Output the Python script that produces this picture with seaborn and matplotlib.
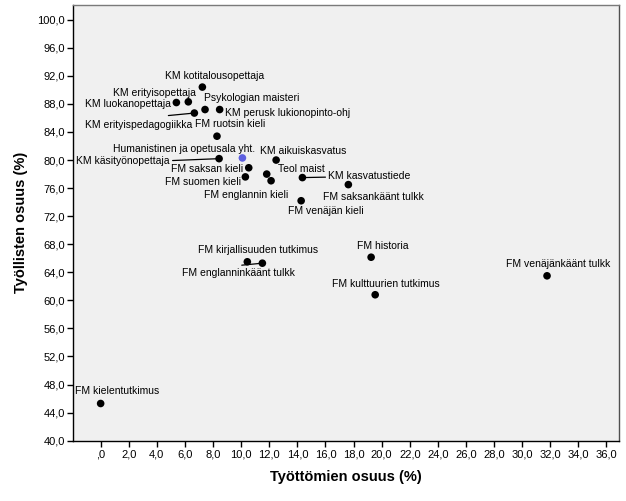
import matplotlib
matplotlib.use("Agg")
import matplotlib.pyplot as plt
from matplotlib.ticker import FixedLocator, FuncFormatter
import pandas as pd
import seaborn as sns

# tutkinnot: työttömien osuus (x) ja työllisten osuus (y)
names = [
    "KM kotitalousopettaja", "KM erityisopettaja", "KM luokanopettaja",
    "KM erityispedagogiikka", "Psykologian maisteri", "KM perusk lukionopinto-ohj",
    "FM ruotsin kieli", "Humanistinen ja opetusala yht.", "KM aikuiskasvatus",
    "KM käsityönopettaja", "FM saksan kieli", "FM suomen kieli", "Teol maist",
    "KM kasvatustiede", "FM englannin kieli", "FM venäjän kieli",
    "FM saksankäänt tulkk", "FM kirjallisuuden tutkimus", "FM englanninkäänt tulkk",
    "FM historia", "FM kulttuurien tutkimus", "FM venäjänkäänt tulkk",
    "FM kielentutkimus",
]
unemployed = [7.24, 6.24, 5.39, 6.67, 7.43, 8.47, 8.28, 10.09, 12.49, 8.43, 10.54,
              10.30, 11.82, 14.36, 12.13, 14.27, 17.63, 10.44, 11.51, 19.25, 19.54,
              31.77, 0.0]
employed = [90.4, 88.3, 88.2, 86.7, 87.2, 87.2, 83.4, 80.3, 80.0, 80.2, 78.9,
            77.6, 78.0, 77.5, 77.05, 74.2, 76.5, 65.5, 65.3, 66.15, 60.8, 63.5, 45.3]
group = ["tutkinto"] * 7 + ["yhteensä"] + ["tutkinto"] * 15

x_ticks = list(range(0, 37, 2))
y_ticks = list(range(40, 101, 4))

# label placement (pixel offsets from the dot) and optional leader line anchor
label_offsets = [
    (12, 11), (-34, 9), (-48, -1), (-56, -12), (47, 12), (68, -3), (13, 12),
    (-58, 9), (27, 9), (-96, -2), (-42, -1), (-42, -5), (35, 5), (67, 2),
    (-25, -14), (25, -10), (25, -12), (11, 12), (-24, -10), (12, 11), (11, 11),
    (11, 12), (16, 12),
]
leaders = {
    "KM erityispedagogiikka": (0.78, 1.45),
    "KM käsityönopettaja": (1.0, 0.5),
    "KM kasvatustiede": (0.0, 0.35),
    "FM englanninkäänt tulkk": (0.53, 1.3),
}

df = pd.DataFrame({"name": names, "x": unemployed, "y": employed, "group": group})

plt.rcParams["font.family"] = ["Liberation Sans", "DejaVu Sans"]

fig = plt.figure(figsize=(6.26, 5.01), dpi=100)
ax = fig.add_axes([0.117, 0.1204, 0.872, 0.8696])
ax.set_facecolor("#f0f0f0")

sns.scatterplot(data=df, x="x", y="y", hue="group",
                palette={"tutkinto": "black", "yhteensä": "#5e60e0"},
                s=30, linewidth=0, legend=False, ax=ax, zorder=3)

for name, xv, yv, (dx, dy) in zip(names, unemployed, employed, label_offsets):
    kw = {}
    if name in leaders:
        kw["arrowprops"] = dict(arrowstyle="-", color="black", lw=0.9,
                                shrinkA=0, shrinkB=0, relpos=leaders[name])
    ax.annotate(name, (xv, yv), xytext=(dx, dy), textcoords="offset pixels",
                ha="center", va="center", fontsize=7.5, color="black",
                annotation_clip=False, clip_on=False, zorder=4, **kw)

ax.set_xlim(-1.95, 36.9)
ax.set_ylim(40, 102.1)
ax.xaxis.set_major_locator(FixedLocator(x_ticks))
ax.yaxis.set_major_locator(FixedLocator(y_ticks))
fmt = FuncFormatter(lambda v, p: ",0" if v == 0 else f"{v:.1f}".replace(".", ","))
ax.xaxis.set_major_formatter(fmt)
ax.yaxis.set_major_formatter(fmt)
ax.tick_params(direction="out", length=4.5, width=1, labelsize=8, pad=1.5,
               color="black")

ax.set_xlabel("Työttömien osuus (%)", fontsize=10.5, fontweight="bold", labelpad=8)
ax.set_ylabel("Työllisten osuus (%)", fontsize=10.5, fontweight="bold", labelpad=7)

ax.spines["left"].set_color("black")
ax.spines["bottom"].set_color("black")
ax.spines["top"].set_color("#7a7a7a")
ax.spines["right"].set_color("#505050")
for sp in ax.spines.values():
    sp.set_linewidth(1.0)

fig.savefig("out.png", dpi=100, facecolor="white")
